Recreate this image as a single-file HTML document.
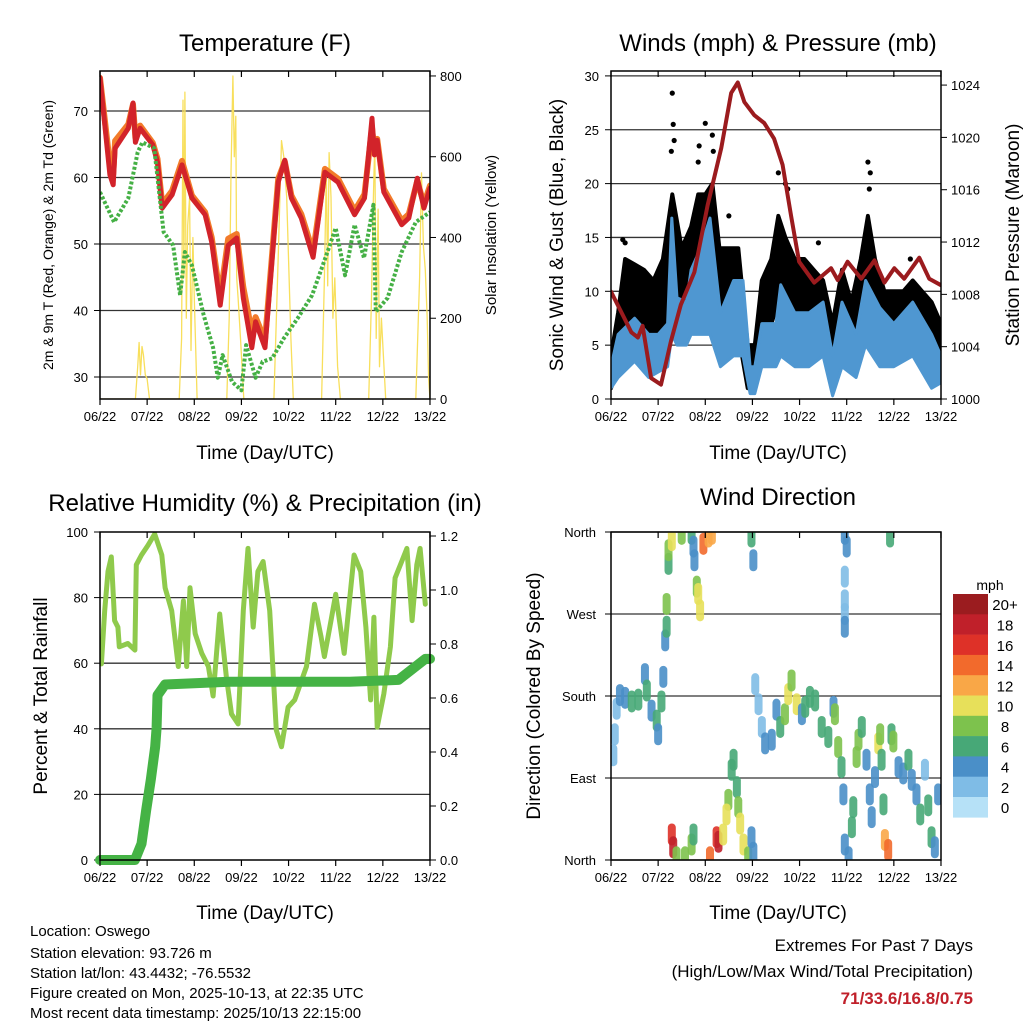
<!DOCTYPE html>
<html><head><meta charset="utf-8">
<style>
body{margin:0;background:#fff;}
svg{display:block;font-family:"Liberation Sans",sans-serif;}
</style></head>
<body>
<svg id="fig" width="1024" height="1024" viewBox="0 0 1024 1024" xmlns="http://www.w3.org/2000/svg">
<defs>
<clipPath id="c1"><rect x="100" y="71" width="330" height="328"/></clipPath>
<clipPath id="c2"><rect x="611" y="71" width="330" height="328"/></clipPath>
<clipPath id="c3"><rect x="100" y="532" width="330" height="328"/></clipPath>
<clipPath id="c4"><rect x="611" y="532" width="330" height="328"/></clipPath>
</defs>
<text x="265" y="51" font-size="24" text-anchor="middle">Temperature (F)</text>
<text x="778" y="51" font-size="24" text-anchor="middle">Winds (mph) &amp; Pressure (mb)</text>
<text x="265" y="511" font-size="24" text-anchor="middle">Relative Humidity (%) &amp; Precipitation (in)</text>
<text x="778" y="505" font-size="24" text-anchor="middle">Wind Direction</text>

<text transform="translate(53,235) rotate(-90)" font-size="14" text-anchor="middle">2m &amp; 9m T (Red, Orange) &amp; 2m Td (Green)</text>
<text transform="translate(496,235) rotate(-90)" font-size="15" text-anchor="middle">Solar Insolation (Yellow)</text>
<text transform="translate(563,235) rotate(-90)" font-size="19" text-anchor="middle">Sonic Wind &amp; Gust (Blue, Black)</text>
<text transform="translate(1019,235) rotate(-90)" font-size="19" text-anchor="middle">Station Pressure (Maroon)</text>
<text transform="translate(47,696) rotate(-90)" font-size="19" text-anchor="middle">Percent &amp; Total Rainfall</text>
<text transform="translate(540,696) rotate(-90)" font-size="19" text-anchor="middle">Direction (Colored By Speed)</text>

<text x="265" y="459" font-size="19" text-anchor="middle">Time (Day/UTC)</text>
<text x="778" y="459" font-size="19" text-anchor="middle">Time (Day/UTC)</text>
<text x="265" y="919" font-size="19" text-anchor="middle">Time (Day/UTC)</text>
<text x="778" y="919" font-size="19" text-anchor="middle">Time (Day/UTC)</text>

<g font-size="15">
<text x="30" y="936">Location: Oswego</text>
<text x="30" y="958">Station elevation: 93.726 m</text>
<text x="30" y="978">Station lat/lon: 43.4432; -76.5532</text>
<text x="30" y="998">Figure created on Mon, 2025-10-13, at 22:35 UTC</text>
<text x="30" y="1018">Most recent data timestamp: 2025/10/13 22:15:00</text>
</g>
<g font-size="17" text-anchor="end">
<text x="973" y="951">Extremes For Past 7 Days</text>
<text x="973" y="977">(High/Low/Max Wind/Total Precipitation)</text>
<text x="973" y="1004" fill="#c0202a" font-weight="bold">71/33.6/16.8/0.75</text>
</g>
<g id="dyn"></g>
</svg>
<script>
// ---------- data ----------
const dayLabels=["06/22","07/22","08/22","09/22","10/22","11/22","12/22","13/22"];
const tempTicks=[30,40,50,60,70];
const solarTicks=[0,200,400,600,800];
const windTicks=[0,5,10,15,20,25,30];
const presTicks=[1000,1004,1008,1012,1016,1020,1024];
const rhTicks=[0,20,40,60,80,100];
const rainTicks=[0.0,0.2,0.4,0.6,0.8,1.0,1.2];
const dirTicks=[0,90,180,270,360];
const dirLabels=["North","East","South","West","North"];
const speedBins=["0","2","4","6","8","10","12","14","16","18","20+"];
const speedColors=["#b6e1f7","#7fbce6","#4a8fc8","#47a877","#7dc24d","#e7e05a","#f9a747","#f26a2c","#de3128","#c0202a","#9b1c1f"];

const tempT=[0,0.21,0.28,0.32,0.6,0.7,0.75,0.85,1.12,1.22,1.32,1.53,1.74,1.95,2.23,2.37,2.55,2.72,2.9,3.04,3.22,3.3,3.5,3.64,3.78,3.92,4.06,4.27,4.52,4.77,5.05,5.4,5.61,5.77,5.82,5.88,6.02,6.4,6.55,6.73,6.87,7.0];
const temp2m=[75,60.4,58.9,64.4,67.4,71.2,65.3,67.4,64.9,62.3,55.4,57.4,61.9,56.9,54.4,50.3,40.8,49.8,50.9,41.9,34.4,38.3,34.4,46.8,59.3,62.6,56.9,53.9,48.0,60.8,59.3,54.4,56.9,68.9,63.4,65.6,57.8,52.9,53.9,59.9,55.4,58.4];
const temp9m=[75,62,60.5,65.5,68,71,66,67.8,65.2,62.8,56,58,62.5,57.3,54.8,51,42,50.8,51.5,43.5,36.8,39,35.5,47.5,59.8,62.4,57.3,54.5,48.8,61.3,59.8,55,57.5,67.5,64,65.8,58.3,53.5,54.5,59.5,56,58.8];
const dewT=[0,0.3,0.6,0.8,0.9,1.15,1.35,1.55,1.7,1.8,1.95,2.2,2.4,2.5,2.6,2.8,3.0,3.1,3.3,3.45,3.65,3.9,4.2,4.5,4.8,5.0,5.2,5.4,5.6,5.8,5.85,6.1,6.4,6.7,7.0];
const dew2m=[57.8,53.3,56.9,63.8,65.3,64.4,51.8,49.8,42.3,48.8,46.8,39.3,34.4,29.9,33.3,29.3,28.0,34.8,29.9,32.3,32.8,35.8,38.9,42.3,48.3,52.4,45.3,52.9,47.9,55.9,39.8,41.9,48.8,53.3,54.8];
const solarT=[0,0.75,0.8,0.83,0.86,0.89,0.92,0.96,1.0,1.05,1.68,1.73,1.76,1.78,1.8,1.83,1.86,1.9,1.93,1.97,2.0,2.06,2.69,2.74,2.78,2.82,2.85,2.88,2.9,2.93,2.98,3.05,3.69,3.78,3.85,3.9,3.96,4.05,4.1,4.7,4.76,4.8,4.83,4.86,4.9,4.94,4.98,5.04,5.1,5.7,5.76,5.8,5.83,5.86,5.9,5.93,5.97,6.06,6.7,6.78,6.82,6.86,6.9,6.94,6.97,7.0];
const solarV=[0,0,80,140,60,130,110,60,50,0,0,150,740,300,760,200,430,500,120,400,250,0,0,200,560,800,600,700,300,250,150,0,0,350,640,600,500,150,0,0,300,560,280,610,500,200,300,80,0,0,250,500,640,150,470,80,200,0,0,300,560,380,320,200,50,0];

const blueT=[0,0.15,0.5,0.8,1.0,1.2,1.29,1.4,1.6,1.7,1.9,2.1,2.32,2.6,2.8,2.95,3.05,3.2,3.5,3.6,3.9,4.2,4.5,4.7,4.9,5.2,5.4,5.7,6.0,6.4,6.8,7.0];
const blueLo=[1,2,3.5,2,2.5,3,6,5,5,6,6,6,3,4,4,0.5,0.5,3,3,4,3,3,4,0.3,3,2,5,3,3,4,1,1.5];
const blueHi=[3,6,7.5,6,6,7,16.8,9.4,9,12,14,16.8,8,11,11,3,3,7,7,10.6,8,8,9,4,9,6,11,8.5,7,9,6,4];
const gustT=[0,0.15,0.3,0.5,0.7,0.9,1.1,1.3,1.5,1.7,1.85,2.0,2.15,2.3,2.5,2.7,2.9,3.05,3.2,3.4,3.55,3.7,3.9,4.1,4.3,4.5,4.7,4.9,5.1,5.3,5.45,5.6,5.8,6.0,6.2,6.4,6.6,6.8,7.0];
const gustLo=[1,3,6,6,5,3,6,9,8,8,10,10,11,6,6,6,1,1,4,7,9,8,7,6,7,6,1,5,3,8,9,6,5,4,5,5,6,4,3];
const gustHi=[4,8,13,12.5,12,11,13,19,14,16,19,19,20,14,14,14,5,5,11,13,17,15,13,13,12,11,7,12,9,13,17,13,10,10,10,11,10,9,7];
const gustOutT=[1.3,1.32,1.34,1.28,2.0,2.15,2.17,1.85,1.87,3.55,3.7,3.75,5.45,5.5,5.48,2.5,0.3,6.35,0.25,4.4];
const gustOutV=[28.4,25.5,24,23,25.6,24.5,23,22,23.5,21,20,19.5,22,21,19.5,17,14.5,13,14.8,14.5];
const presT=[0,0.28,0.43,0.57,0.67,0.85,1.06,1.27,1.48,1.77,2.05,2.34,2.55,2.69,2.83,3.04,3.25,3.46,3.64,3.82,3.99,4.31,4.67,4.81,5.02,5.31,5.59,5.8,6.01,6.22,6.54,6.75,7.0];
const presV=[1008.2,1006.2,1005.1,1004.7,1005.6,1001.6,1001.1,1004.4,1007.2,1009.7,1014.8,1019.2,1023.4,1024.2,1022.7,1021.7,1021.1,1019.9,1017.9,1014.0,1010.5,1008.9,1010.0,1009.1,1010.5,1009.2,1010.6,1008.9,1010.0,1009.2,1010.8,1009.2,1008.7];

const rhT=[0.03,0.1,0.17,0.24,0.31,0.38,0.41,0.59,0.74,0.77,0.88,1.02,1.16,1.31,1.38,1.52,1.66,1.77,1.84,1.91,2.02,2.16,2.3,2.4,2.54,2.68,2.79,2.93,3.04,3.14,3.25,3.35,3.46,3.6,3.74,3.85,3.99,4.13,4.38,4.55,4.69,4.76,4.9,5.0,5.18,5.39,5.53,5.64,5.74,5.81,5.88,6.02,6.16,6.26,6.4,6.51,6.62,6.72,6.79,6.9];
const rhV=[59.8,76,88,92.4,73,71,65,66,64,90,93,96,99.4,93,83,76,59,79,59,83,69,63,59,50,75,56,44.5,41.5,76,95,71,88,91,76,39.6,34.5,46.6,48.8,59,78,68,62,73,81,63,93,88,71,48.8,74,40.5,50.6,65,86,91,95,73,90,95,78];
const rainT=[0,0.74,0.88,0.98,1.08,1.17,1.2,1.22,1.38,2.73,5.3,6.33,6.9,7.0];
const rainV=[0,0,0.06,0.185,0.3,0.42,0.49,0.61,0.65,0.66,0.66,0.667,0.745,0.745];

const dirT=[0.05,0.08,0.12,0.19,0.30,0.44,0.58,0.72,0.76,0.86,0.97,1.00,1.07,1.11,1.15,1.18,1.18,1.22,1.22,1.29,1.50,1.71,1.75,1.77,1.82,1.85,1.89,1.96,2.07,2.14,1.29,1.32,1.39,1.57,1.71,1.75,2.10,2.24,2.28,2.38,2.49,2.45,2.56,2.60,2.67,2.70,2.74,2.81,2.91,2.98,3.02,2.98,3.02,3.06,3.13,3.20,3.27,3.41,3.51,3.59,3.69,3.76,3.83,3.94,4.05,4.12,4.22,4.33,4.47,4.61,4.72,4.75,4.82,4.89,4.93,4.96,5.04,5.11,5.14,5.21,5.25,5.32,5.42,5.49,5.53,5.60,5.67,5.71,5.74,5.78,5.81,5.88,5.95,5.99,6.10,6.20,6.31,6.38,6.48,6.56,6.66,6.73,6.80,6.87,6.94,4.96,5.00,4.96,4.96,4.96,4.96,5.92];
const dirDeg=[115,138,166,181,178,174,176,204,186,164,153,138,174,201,241,256,281,325,340,351,358,358,344,329,300,292,274,347,355,358,28,14,3,3,17,28,3,25,20,28,66,50,99,110,80,58,40,17,3,25,8,355,329,193,171,146,128,132,165,146,160,182,197,171,160,168,179,175,146,135,168,160,124,102,72,17,3,36,58,113,132,146,110,72,47,91,128,138,110,61,22,11,138,130,102,95,110,88,72,50,99,60,25,14,72,358,344,311,285,270,256,355];
const dirSpd=[2,2,2,3,4,6,6,4,6,4,6,4,6,4,4,6,8,6,8,10,8,6,4,4,8,10,10,14,12,12,16,18,8,8,8,6,14,16,18,10,8,10,6,6,6,8,10,10,8,4,4,6,4,2,2,2,4,4,4,6,8,10,8,10,4,6,6,6,6,6,4,8,8,6,4,4,4,6,6,8,8,6,4,4,4,4,10,8,6,6,12,14,6,8,4,4,6,4,4,6,2,6,6,4,4,4,4,2,2,2,4,6];

// ---------- helpers ----------
const NS="http://www.w3.org/2000/svg";
const root=document.getElementById('dyn');
function mk(tag,attrs,parent){const e=document.createElementNS(NS,tag);for(const k in attrs)e.setAttribute(k,attrs[k]);(parent||root).appendChild(e);return e;}
function txt(x,y,s,size,anchor,parent){const e=mk('text',{x:x,y:y,'font-size':size,'text-anchor':anchor},parent);e.textContent=s;return e;}
const DAYW=47.14;
function panel(name){
  const g=mk('g',{});
  
  
  return g;
}
function xAxis(g,px,by){
  for(let i=0;i<dayLabels.length;i++){
    const x=px+i*DAYW;
    mk('line',{x1:x,y1:by,x2:x,y2:by+6,stroke:'#000','stroke-width':1.2},g);
    mk('line',{x1:x,y1:by-328,x2:x,y2:by-328+6,stroke:'#000','stroke-width':1.2},g);
    const t=txt(x,by+22,dayLabels[i],13,'middle',g);
    
    
  }
}
function frame(g,px,py){
  const r=mk('rect',{x:px,y:py,width:330,height:328,fill:'none',stroke:'#000','stroke-width':1.5},g);
  
  
}
function lineFrom(g,ts,vs,X,Y,attrs,clip){
  let d='';for(let i=0;i<ts.length;i++)d+=(i?'L':'M')+X(ts[i]).toFixed(1)+','+Y(vs[i]).toFixed(1);
  const a=Object.assign({d:d,fill:'none','stroke-linejoin':'round','stroke-linecap':'round'},attrs);
  if(clip)a['clip-path']='url(#'+clip+')';
  return mk('path',a,g);
}
function bandFrom(g,ts,lo,hi,X,Y,fill,clip){
  let d='';
  for(let i=0;i<ts.length;i++)d+=(i?'L':'M')+X(ts[i]).toFixed(1)+','+Y(hi[i]).toFixed(1);
  for(let i=ts.length-1;i>=0;i--)d+='L'+X(ts[i]).toFixed(1)+','+Y(lo[i]).toFixed(1);
  return mk('path',{d:d+'Z',fill:fill,'clip-path':'url(#'+clip+')'},g);
}

// ---------- Panel 1: temperature ----------
(function(){
  const px=100,py=71,by=399;
  const g=panel('temperature-chart');
  const X=t=>px+t*DAYW, Y=v=>111+(70-v)*6.65, YS=v=>399-v*0.4038;
  tempTicks.forEach(v=>{
    const gl=mk('line',{x1:px,x2:px+330,y1:Y(v),y2:Y(v),stroke:'#333','stroke-width':1.3},g);
    
    
    mk('line',{x1:px-6,x2:px,y1:Y(v),y2:Y(v),stroke:'#000'},g);
    txt(px-12,Y(v)+5,String(v),13,'end',g);
  });
  solarTicks.forEach(v=>{mk('line',{x1:px+330,x2:px+336,y1:YS(v),y2:YS(v),stroke:'#000'},g);txt(px+340,YS(v)+5,String(v),13,'start',g);});
  const s=lineFrom(g,solarT,solarV,X,YS,{stroke:'#f8df5c','stroke-width':1.3},'c1');
  
  
  const o=lineFrom(g,tempT,temp9m,X,Y,{stroke:'#f27b2a','stroke-width':6},'c1');
  
  
  const r=lineFrom(g,tempT,temp2m,X,Y,{stroke:'#d2232a','stroke-width':5},'c1');
  
  
  const d=lineFrom(g,dewT,dew2m,X,Y,{stroke:'#45b045','stroke-width':4,'stroke-dasharray':'3 2','stroke-linecap':'butt'},'c1');
  
  
  frame(g,px,py);xAxis(g,px,by);
})();

// ---------- Panel 2: winds ----------
(function(){
  const px=611,py=71,by=399;
  const g=panel('winds-chart');
  const X=t=>px+t*DAYW, Y=v=>399-v*10.77, YP=v=>399-(v-1000)*13.08;
  windTicks.forEach(v=>{
    if(v>0){const gl=mk('line',{x1:px,x2:px+330,y1:Y(v),y2:Y(v),stroke:'#333','stroke-width':1.3},g);
    
    }
    mk('line',{x1:px-6,x2:px,y1:Y(v),y2:Y(v),stroke:'#000'},g);
    txt(px-12,Y(v)+5,String(v),13,'end',g);
  });
  presTicks.forEach(v=>{mk('line',{x1:px+330,x2:px+336,y1:YP(v),y2:YP(v),stroke:'#000'},g);txt(px+340,YP(v)+5,String(v),13,'start',g);});
  const k=bandFrom(g,gustT,gustLo,gustHi,X,Y,'#000','c2');
  
  
  k.setAttribute('stroke','#000');k.setAttribute('stroke-width','4');k.setAttribute('stroke-linejoin','round');
  for(let i=0;i<gustOutT.length;i++){
    const c=mk('circle',{cx:X(gustOutT[i]),cy:Y(gustOutV[i]),r:2.6,fill:'#000','clip-path':'url(#c2)'},g);
    
    
  }
  const b=bandFrom(g,blueT,blueLo,blueHi,X,Y,'#4f97d1','c2');
  
  
  b.setAttribute('stroke','#4f97d1');b.setAttribute('stroke-width','3');b.setAttribute('stroke-linejoin','round');
  const p=lineFrom(g,presT,presV,X,YP,{stroke:'#9b1b1e','stroke-width':4},'c2');
  
  
  frame(g,px,py);xAxis(g,px,by);
})();

// ---------- Panel 3: RH & precip ----------
(function(){
  const px=100,py=532,by=860;
  const g=panel('humidity-chart');
  const X=t=>px+t*DAYW, Y=v=>860-v*3.28, YR=v=>860-v*270;
  rhTicks.forEach(v=>{
    if(v>0&&v<100){const gl=mk('line',{x1:px,x2:px+330,y1:Y(v),y2:Y(v),stroke:'#333','stroke-width':1.3},g);
    
    }
    mk('line',{x1:px-6,x2:px,y1:Y(v),y2:Y(v),stroke:'#000'},g);
    txt(px-12,Y(v)+5,String(v),13,'end',g);
  });
  rainTicks.forEach(v=>{mk('line',{x1:px+330,x2:px+336,y1:YR(v),y2:YR(v),stroke:'#000'},g);txt(px+340,YR(v)+5,v.toFixed(1),13,'start',g);});
  const h=lineFrom(g,rhT,rhV,X,Y,{stroke:'#8fca4c','stroke-width':5},'c3');
  
  
  const r=lineFrom(g,rainT,rainV,X,YR,{stroke:'#45b345','stroke-width':10},null);
  
  
  frame(g,px,py);xAxis(g,px,by);
})();

// ---------- Panel 4: wind direction ----------
(function(){
  const px=611,py=532,by=860;
  const g=panel('wind-direction-chart');
  const X=t=>px+t*DAYW, Y=v=>860-v*0.9111;
  dirTicks.forEach((v,i)=>{
    const gl=mk('line',{x1:px,x2:px+330,y1:Y(v),y2:Y(v),stroke:'#333','stroke-width':1.3},g);
    
    
    mk('line',{x1:px-6,x2:px,y1:Y(v),y2:Y(v),stroke:'#000'},g);
    txt(px-15,Y(v)+5,dirLabels[i],13,'end',g);
  });
  for(let i=0;i<dirT.length;i++){
    const ci=Math.min(10,Math.round(dirSpd[i]/2));
    const x=X(dirT[i]), y=Y(dirDeg[i]);
    const c=mk('line',{x1:x,x2:x,y1:y-7,y2:y+7,stroke:speedColors[ci],'stroke-width':8,'stroke-linecap':'round','stroke-opacity':0.9,'clip-path':'url(#c4)'},g);
    
    
  }
  frame(g,px,py);xAxis(g,px,by);
  const lg=mk('g',{},root);
  
  
  txt(990,590,'mph',14,'middle',lg);
  const bh=20.3;
  for(let i=0;i<11;i++){
    const idx=10-i, y=594+i*bh;
    const r=mk('rect',{x:953,y:y,width:35,height:bh+0.3,fill:speedColors[idx]},lg);
    
    
    txt(1005,y+bh/2+6,speedBins[idx],15,'middle',lg);
  }
})();
</script>
</body></html>
